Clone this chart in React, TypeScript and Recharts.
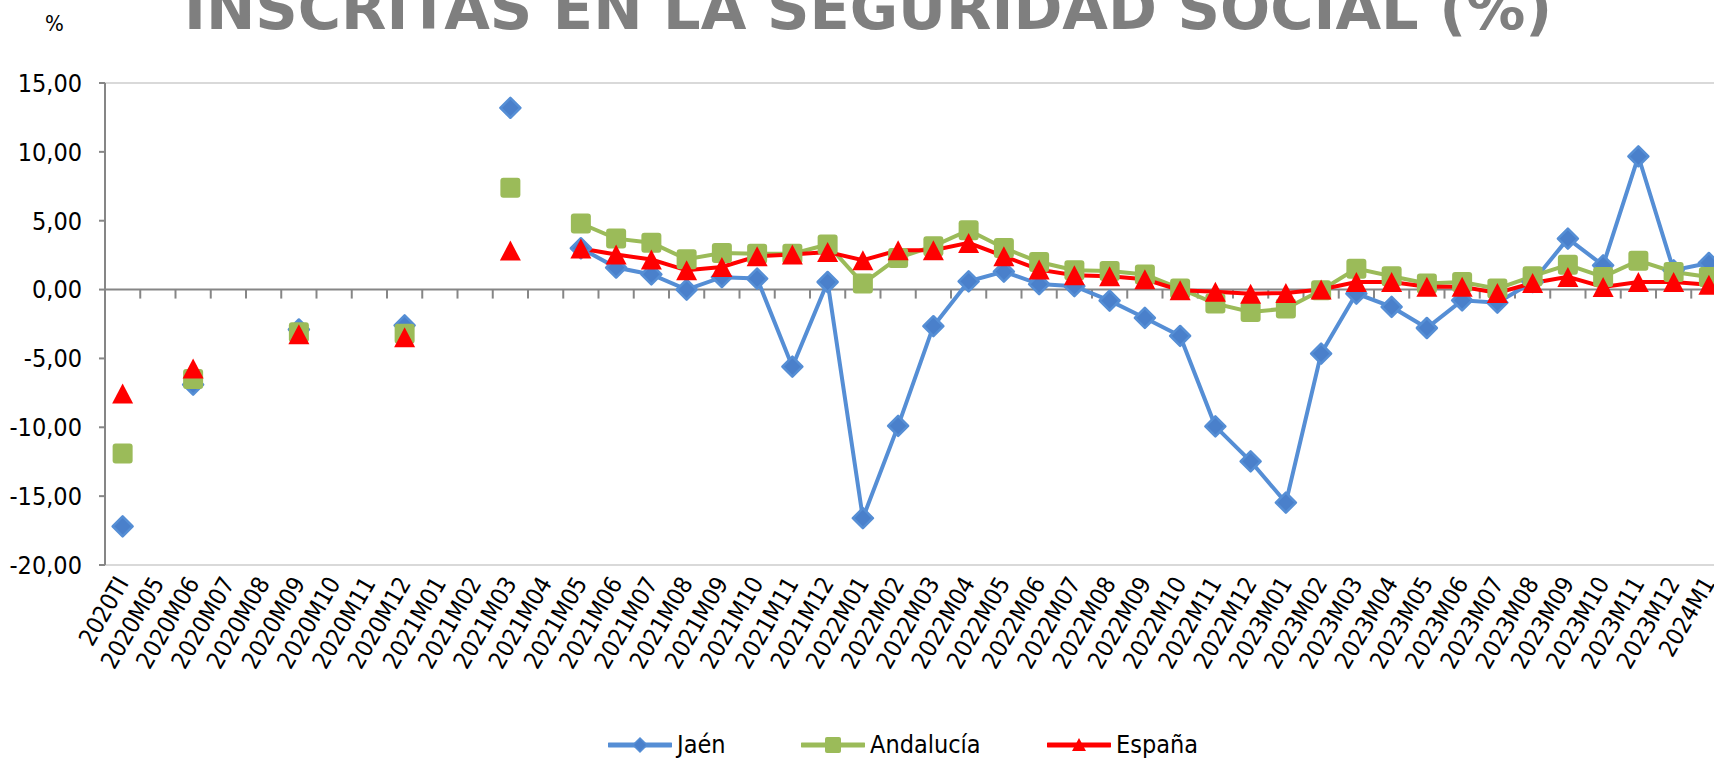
import React from 'react';
import { Line, LineChart, ReferenceLine, XAxis, YAxis } from 'recharts';

const periods = [
  '2020TI', '2020M05', '2020M06', '2020M07', '2020M08', '2020M09', '2020M10', '2020M11', '2020M12',
  '2021M01', '2021M02', '2021M03', '2021M04', '2021M05', '2021M06', '2021M07', '2021M08', '2021M09',
  '2021M10', '2021M11', '2021M12', '2022M01', '2022M02', '2022M03', '2022M04', '2022M05', '2022M06',
  '2022M07', '2022M08', '2022M09', '2022M10', '2022M11', '2022M12', '2023M01', '2023M02', '2023M03',
  '2023M04', '2023M05', '2023M06', '2023M07', '2023M08', '2023M09', '2023M10', '2023M11', '2023M12',
  '2024M1',
];

const jaen = [
  -17.2, null, -6.9, null, null, -2.9, null, null, -2.6,
  null, null, 13.2, null, 3.0, 1.6, 1.1, 0.0, 0.9,
  0.8, -5.6, 0.55, -16.6, -9.9, -2.66, 0.6, 1.3, 0.4,
  0.25, -0.8, -2.06, -3.37, -9.93, -12.47, -15.47, -4.65, -0.29,
  -1.26, -2.79, -0.78, -0.95, 0.55, 3.7, 1.76, 9.68, 1.4,
  1.93,
];

const andalucia = [
  -11.9, null, -6.5, null, null, -3.1, null, null, -3.2,
  null, null, 7.4, null, 4.8, 3.7, 3.4, 2.2, 2.66,
  2.6, 2.6, 3.27, 0.44, 2.3, 3.15, 4.31, 3.02, 2.0,
  1.4, 1.35, 1.1, 0.07, -1.02, -1.63, -1.38, -0.05, 1.52,
  0.97, 0.44, 0.55, 0.07, 0.97, 1.8, 0.92, 2.1, 1.28,
  0.92,
];

const espana = [
  -7.55, null, -5.74, null, null, -3.25, null, null, -3.46,
  null, null, 2.83, null, 2.98, 2.54, 2.18, 1.4, 1.64,
  2.42, 2.54, 2.73, 2.13, 2.85, 2.85, 3.39, 2.42, 1.45,
  1.04, 0.97, 0.75, -0.05, -0.15, -0.3, -0.25, 0.0, 0.55,
  0.55, 0.2, 0.2, -0.25, 0.48, 0.92, 0.19, 0.55, 0.55,
  0.35,
];

const yTicks = [-20, -15, -10, -5, 0, 5, 10, 15];

const data = periods.map((period, i) => ({
  period,
  jaen: jaen[i],
  andalucia: andalucia[i],
  espana: espana[i],
}));

const FONT = "'DejaVu Sans Condensed', 'Liberation Sans', Arial, sans-serif";
const AXIS_GRAY = '#868686';
const BLUE = '#558ED5';
const GREEN = '#9BBB59';
const RED = '#FF0000';

// half a category on each side, so points sit in the middle of their slot
const PLOT_W = 1621.5;
const HALF_SLOT = PLOT_W / periods.length / 2;

const fmt = (v: number) => v.toFixed(2).replace('.', ',');

function Diamond({ cx, cy, index }: any) {
  if (cx == null || cy == null) return <g key={`j-${index}`} />;
  const r = 10;
  return (
    <polygon
      key={`j-${index}`}
      points={`${cx},${cy - r} ${cx + r},${cy} ${cx},${cy + r} ${cx - r},${cy}`}
      fill="#4A80CB"
      stroke={BLUE}
      strokeWidth={2.5}
      strokeLinejoin="round"
    />
  );
}

function Square({ cx, cy, index }: any) {
  if (cx == null || cy == null) return <g key={`a-${index}`} />;
  const s = 20;
  return (
    <rect key={`a-${index}`} x={cx - s / 2} y={cy - s / 2} width={s} height={s} rx={3} fill={GREEN} />
  );
}

function Triangle({ cx, cy, index }: any) {
  if (cx == null || cy == null) return <g key={`e-${index}`} />;
  const w = 21;
  const h = 20;
  return (
    <polygon
      key={`e-${index}`}
      points={`${cx},${cy - h / 2} ${cx + w / 2},${cy + h / 2} ${cx - w / 2},${cy + h / 2}`}
      fill={RED}
    />
  );
}

// zero line with marks between categories
function ZeroAxis(props: any) {
  const { x1, y1, x2 } = props;
  const step = (x2 - x1) / periods.length;
  return (
    <g>
      <line x1={x1} y1={y1} x2={x2} y2={y1} stroke={AXIS_GRAY} strokeWidth={2} />
      {periods.slice(1).map((_, i) => {
        const x = x1 + step * (i + 1);
        return <line key={i} x1={x} x2={x} y1={y1} y2={y1 + 9} stroke={AXIS_GRAY} strokeWidth={2} />;
      })}
    </g>
  );
}

function XTick({ x, y, payload }: any) {
  return (
    <text
      x={x}
      y={y}
      transform={`rotate(-60, ${x}, ${y})`}
      textAnchor="end"
      dominantBaseline="central"
      fontSize={24}
      fontFamily={FONT}
      fill="#000"
    >
      {payload.value}
    </text>
  );
}

function LegendItem({ color, label, marker }: { color: string; label: string; marker: React.ReactNode }) {
  return (
    <div style={{ display: 'flex', alignItems: 'center' }}>
      <svg width={64} height={20} style={{ marginRight: 5 }}>
        <line x1={1} x2={63} y1={10} y2={10} stroke={color} strokeWidth={5} strokeLinecap="round" />
        {marker}
      </svg>
      <span style={{ fontFamily: FONT, fontSize: 25, color: '#000' }}>{label}</span>
    </div>
  );
}

export default function App() {
  return (
    <div
      style={{
        position: 'fixed',
        left: 0,
        top: 0,
        width: 1714,
        height: 758,
        overflow: 'hidden',
        background: '#fff',
      }}
    >
      <svg width={1714} height={60} style={{ position: 'absolute', left: 0, top: 0 }}>
        <text x={184} y={29} fontFamily="'DejaVu Sans', sans-serif" fontWeight="bold" fontSize={59} fill="#7F7F7F">
          INSCRITAS EN LA SEGURIDAD SOCIAL (%)
        </text>
        <text x={45} y={31} fontFamily={FONT} fontSize={22} fill="#000">
          %
        </text>
      </svg>

      <div style={{ position: 'absolute', left: 0, top: 0 }}>
        <LineChart
          width={1740}
          height={758}
          data={data}
          margin={{ top: 83, right: 13.5, left: 15, bottom: 43 }}
        >
          <ReferenceLine y={15} stroke="#D9D9D9" strokeWidth={2} />
          <ReferenceLine y={-20} stroke="#D9D9D9" strokeWidth={2} />
          <ReferenceLine y={0} shape={<ZeroAxis />} />
          <XAxis
            dataKey="period"
            interval={0}
            padding={{ left: HALF_SLOT, right: HALF_SLOT }}
            axisLine={false}
            tickLine={false}
            tickSize={0}
            tickMargin={14}
            height={150}
            tick={<XTick />}
          />
          <YAxis
            domain={[-20, 15]}
            ticks={yTicks}
            interval={0}
            width={90}
            allowDataOverflow
            axisLine={{ stroke: AXIS_GRAY, strokeWidth: 2 }}
            tickLine={{ stroke: AXIS_GRAY, strokeWidth: 2 }}
            tickSize={6}
            tickMargin={17}
            tick={{ fill: '#000', fontSize: 25, fontFamily: FONT }}
            tickFormatter={fmt}
          />
          <Line
            dataKey="jaen"
            name="Jaén"
            stroke={BLUE}
            strokeWidth={4}
            dot={(p: any) => <Diamond {...p} />}
            activeDot={false}
            isAnimationActive={false}
          />
          <Line
            dataKey="andalucia"
            name="Andalucía"
            stroke={GREEN}
            strokeWidth={4}
            dot={(p: any) => <Square {...p} />}
            activeDot={false}
            isAnimationActive={false}
          />
          <Line
            dataKey="espana"
            name="España"
            stroke={RED}
            strokeWidth={4}
            dot={(p: any) => <Triangle {...p} />}
            activeDot={false}
            isAnimationActive={false}
          />
        </LineChart>
      </div>

      <div style={{ position: 'absolute', left: 608, top: 730, display: 'flex', gap: 0 }}>
        <div style={{ width: 193 }}>
          <LegendItem
            color={BLUE}
            label="Jaén"
            marker={<polygon points="32,3 39,10 32,17 25,10" fill="#4A80CB" stroke={BLUE} strokeWidth={1.5} />}
          />
        </div>
        <div style={{ width: 246 }}>
          <LegendItem
            color={GREEN}
            label="Andalucía"
            marker={<rect x={24} y={2} width={16} height={16} rx={2} fill={GREEN} />}
          />
        </div>
        <div>
          <LegendItem
            color={RED}
            label="España"
            marker={<polygon points="32,3 39,16 25,16" fill={RED} />}
          />
        </div>
      </div>
    </div>
  );
}
